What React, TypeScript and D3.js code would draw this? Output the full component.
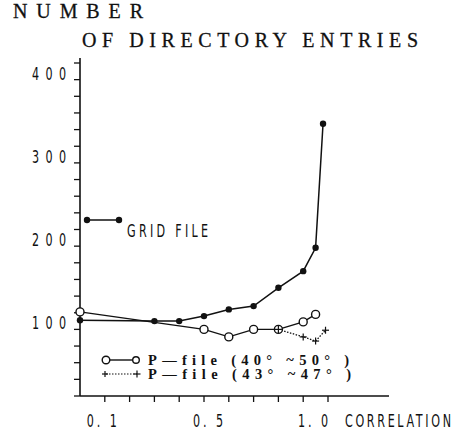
import React from "react";
import * as d3 from "d3";

// ---- data ----
const gridX = [0, 0.3, 0.4, 0.5, 0.6, 0.7, 0.8, 0.9, 0.95, 0.98];
const gridY = [91, 90, 90, 96, 104, 108, 130, 150, 178, 327];
const pWideX = [0, 0.5, 0.6, 0.7, 0.8, 0.9, 0.95];
const pWideY = [101, 80, 71, 80, 80, 89, 98];
const pNarrowX = [0.8, 0.9, 0.95, 0.99];
const pNarrowY = [80, 71, 66, 79];
const yTickValues = d3.range(0, 401, 20);
const yLabelValues = [100, 200, 300, 400];
const yLabels = ["100", "200", "300", "400"];
const xTickValues = d3.range(1, 11).map((i) => i / 10);
const xLabelValues = [0.1, 0.5, 1.0];
const xLabels = ["0. 1", "0. 5", "1. 0"];
const titleLines = ["NUMBER", "OF DIRECTORY ENTRIES"];
const gridLabel = "GRID FILE";
const pWideLabel = "P\u2014file (40\u00b0 ~50\u00b0 )";
const pNarrowLabel = "P\u2014file (43\u00b0 ~47\u00b0 )";
const xTitle = "CORRELATION";

// ---- layout ----
const W = 459;
const H = 433;
const X0 = 80;
const XAXIS_END = 389;
const Y0 = 396;
const YAXIS_TOP = 58;
const xLabelNudge = [-3, 4, -15];
const ink = "#111";
const narrowFont = "'DejaVu Sans', 'Liberation Sans', sans-serif";
const serif = "'Liberation Serif', 'DejaVu Serif', serif";
const NARROW = 0.62;

function NarrowText(props: {
  x: number;
  y: number;
  width: number;
  size: number;
  anchor?: string;
  children: React.ReactNode;
}) {
  const { x, y, width, size, anchor, children } = props;
  return (
    <text
      transform={`translate(${x},${y}) scale(${NARROW},1)`}
      fontFamily={narrowFont}
      fontSize={size}
      fill={ink}
      textAnchor={anchor || "start"}
      textLength={width / NARROW}
      lengthAdjust="spacing"
    >
      {children}
    </text>
  );
}

export default function App() {
  const x = d3.scaleLinear().domain([0, 1]).range([X0, 328]);
  const y = d3.scaleLinear().domain([0, 400]).range([Y0, 63]);

  const line = d3
    .line<[number, number]>()
    .x((d) => x(d[0]))
    .y((d) => y(d[1]));

  const grid = gridX.map((v, i) => [v, gridY[i]] as [number, number]);
  const pWide = pWideX.map((v, i) => [v, pWideY[i]] as [number, number]);
  const pNarrow = pNarrowX.map((v, i) => [v, pNarrowY[i]] as [number, number]);

  const plus = (cx: number, cy: number, key: string, s = 3.5) => (
    <g key={key} stroke={ink} strokeWidth={1.2}>
      <line x1={cx - s} x2={cx + s} y1={cy} y2={cy} />
      <line x1={cx} x2={cx} y1={cy - s} y2={cy + s} />
    </g>
  );

  return (
    <svg
      width={W}
      height={H}
      style={{ position: "absolute", left: 0, top: 0, background: "#fff" }}
    >
      <rect width={W} height={H} fill="#fff" />
      {/* title */}
      <text x={13} y={18} fontFamily={serif} fontSize={20} fill={ink} stroke={ink} strokeWidth={0.3} textLength={130} lengthAdjust="spacing">
        {titleLines[0]}
      </text>
      <text x={82} y={47} fontFamily={serif} fontSize={20} fill={ink} stroke={ink} strokeWidth={0.3} textLength={336} lengthAdjust="spacing">
        {titleLines[1]}
      </text>

      {/* axes */}
      <line x1={X0} x2={X0} y1={YAXIS_TOP} y2={Y0} stroke={ink} strokeWidth={1.6} />
      <line x1={X0} x2={XAXIS_END} y1={Y0} y2={Y0} stroke={ink} strokeWidth={1.6} />
      {yTickValues.map((v) => (
        <line key={"yt" + v} x1={X0 - 6} x2={X0} y1={y(v)} y2={y(v)} stroke={ink} strokeWidth={1.3} />
      ))}
      {xTickValues.map((v) => (
        <line key={"xt" + v} x1={x(v)} x2={x(v)} y1={Y0} y2={Y0 + 6} stroke={ink} strokeWidth={1.3} />
      ))}
      {yLabelValues.map((v, i) => (
        <NarrowText key={"yl" + v} x={32} y={y(v) + 16.5} width={34} size={18}>
          {yLabels[i]}
        </NarrowText>
      ))}
      {xLabelValues.map((v, i) => (
        <NarrowText key={"xl" + v} x={x(v) + xLabelNudge[i]} y={427} width={30} size={18} anchor="middle">
          {xLabels[i]}
        </NarrowText>
      ))}
      <NarrowText x={345} y={427} width={106} size={18}>
        {xTitle}
      </NarrowText>

      {/* series lines */}
      <path d={line(grid) || ""} fill="none" stroke={ink} strokeWidth={1.5} />
      <path d={line(pWide) || ""} fill="none" stroke={ink} strokeWidth={1.4} />
      <path d={line(pNarrow) || ""} fill="none" stroke={ink} strokeWidth={1.3} strokeDasharray="1.5,1.5" />

      {/* markers */}
      {grid.map((d, i) => (
        <circle key={"g" + i} cx={x(d[0])} cy={y(d[1])} r={3.2} fill={ink} />
      ))}
      {pWide.map((d, i) => (
        <circle key={"w" + i} cx={x(d[0])} cy={y(d[1])} r={4} fill="#fff" stroke={ink} strokeWidth={1.4} />
      ))}
      {pNarrow.map((d, i) => plus(x(d[0]), y(d[1]), "n" + i))}

      {/* legends */}
      <line x1={87} x2={119} y1={220} y2={220} stroke={ink} strokeWidth={1.5} />
      <circle cx={87} cy={220} r={3.2} fill={ink} />
      <circle cx={119} cy={220} r={3.2} fill={ink} />
      <NarrowText x={127} y={237} width={81} size={18}>
        {gridLabel}
      </NarrowText>

      <line x1={106} x2={136} y1={360} y2={360} stroke={ink} strokeWidth={1.4} />
      <circle cx={106} cy={360} r={3.8} fill="#fff" stroke={ink} strokeWidth={1.4} />
      <circle cx={136} cy={360} r={3.3} fill="#fff" stroke={ink} strokeWidth={1.4} />
      <text x={148} y={365} fontFamily={serif} fontWeight="bold" fontSize={14.5} fill={ink} textLength={201} lengthAdjust="spacing">
        {pWideLabel}
      </text>

      <line x1={106} x2={137} y1={374} y2={374} stroke={ink} strokeWidth={1.2} strokeDasharray="1.5,1.5" />
      {plus(105, 374, "lp1", 3)}
      {plus(137, 374, "lp2", 3.5)}
      <text x={148} y={379} fontFamily={serif} fontWeight="bold" fontSize={14.5} fill={ink} textLength={203} lengthAdjust="spacing">
        {pNarrowLabel}
      </text>
    </svg>
  );
}
